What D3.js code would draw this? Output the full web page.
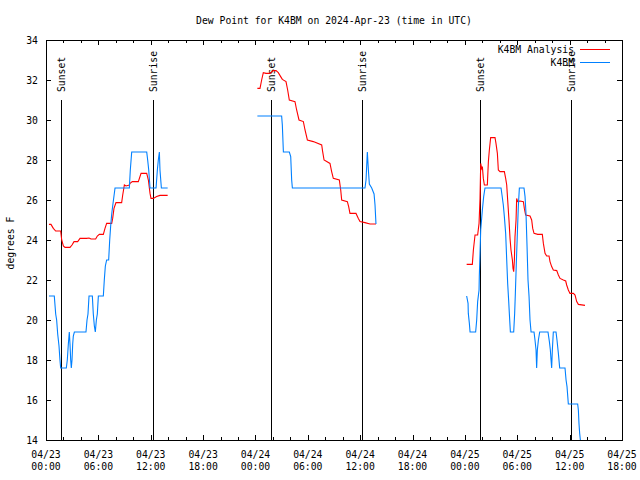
<!DOCTYPE html>
<html><head><meta charset="utf-8">
<script src="https://cdn.jsdelivr.net/npm/d3@7"></script>
<style>body{margin:0;background:#fff}svg{display:block}text{font-family:"DejaVu Sans Mono",monospace;font-size:9.75px;fill:#000}</style>
</head><body><svg id="c" width="640" height="480"></svg>
<script>
const title = "Dew Point for K4BM on 2024-Apr-23 (time in UTC)";
const yLabel = "degrees F";
const seriesNames = ["K4BM Analysis", "K4BM"];
const seriesColors = ["#ff0000", "#0080ff"];
const xTickHours = [0, 6, 12, 18, 24, 30, 36, 42, 48, 54, 60, 66];
const xTickDates = ["04/23","04/23","04/23","04/23","04/24","04/24","04/24","04/24","04/25","04/25","04/25","04/25"];
const xTickTimes = ["00:00","06:00","12:00","18:00","00:00","06:00","12:00","18:00","00:00","06:00","12:00","18:00"];
const yTicks = [14, 16, 18, 20, 22, 24, 26, 28, 30, 32, 34];
const sunsetHours = [1.77, 25.77, 49.68];
const sunriseHours = [12.28, 36.25, 60.18];

// K4BM Analysis (hours since 04/23 00:00 UTC, °F)
const analysis1 = [[0.34,24.78],[0.57,24.78],[0.84,24.58],[1.11,24.45],[1.68,24.45],[1.80,24.0],[1.99,23.7],[2.18,23.63],[2.75,23.63],[2.98,23.75],[3.21,23.92],[3.63,23.92],[3.90,24.08],[4.66,24.08],[4.93,24.1],[5.16,24.05],[5.69,24.05],[5.88,24.2],[6.11,24.28],[6.57,24.28],[6.76,24.58],[6.95,24.83],[7.53,24.83],[7.64,25.08],[7.79,25.58],[8.02,25.87],[8.67,25.87],[8.79,26.25],[8.98,26.75],[9.17,26.7],[9.55,26.75],[9.63,26.83],[9.89,26.92],[10.58,26.92],[10.89,27.33],[11.54,27.33],[11.73,27.0],[11.92,26.33],[12.03,26.08],[12.30,26.08],[12.68,26.17],[13.06,26.23],[13.94,26.23]];
const analysis2 = [[24.22,31.58],[24.52,31.58],[24.71,32.0],[24.90,32.37],[25.21,32.33],[25.67,32.33],[26.05,32.47],[26.36,32.47],[26.62,32.37],[26.89,32.17],[27.08,32.03],[27.5,31.92],[27.69,31.5],[27.88,31.0],[28.53,30.92],[28.72,30.5],[28.99,30.0],[29.49,29.92],[29.68,29.5],[29.95,29.0],[30.63,28.92],[31.59,28.75],[31.70,28.42],[31.86,28.0],[32.54,27.83],[32.73,27.42],[32.92,27.08],[33.61,27.0],[33.77,26.5],[33.88,26.0],[34.53,25.92],[34.68,25.67],[34.83,25.33],[35.52,25.33],[35.79,25.08],[35.98,24.92],[36.55,24.87],[37.13,24.8],[37.81,24.8]];
const analysis3 = [[48.2,22.78],[48.85,22.78],[48.97,23.5],[49.16,24.25],[49.46,24.25],[49.62,24.83],[49.73,26.08],[49.81,27.83],[49.92,27.58],[50.0,27.67],[50.11,27.08],[50.23,26.75],[50.57,26.75],[50.69,27.92],[50.8,28.5],[50.95,29.12],[51.45,29.12],[51.56,28.83],[51.72,28.33],[51.83,27.5],[52.02,27.42],[52.52,27.42],[52.67,27.08],[52.79,26.75],[52.9,26.0],[53.05,25.0],[53.17,24.08],[53.28,23.5],[53.44,23.0],[53.51,22.58],[53.59,22.42],[53.67,23.0],[53.74,24.17],[53.86,25.0],[53.93,26.08],[54.05,25.92],[54.31,25.95],[54.7,25.92],[54.81,25.58],[54.96,25.25],[55.46,25.2],[55.65,25.0],[55.77,24.58],[55.92,24.33],[56.34,24.28],[56.87,24.28],[56.99,23.83],[57.18,23.33],[57.37,23.2],[57.64,23.2],[57.75,22.92],[57.94,22.67],[58.13,22.5],[58.52,22.47],[58.71,22.25],[58.9,22.08],[59.28,22.0],[59.55,21.95],[59.66,21.75],[59.85,21.5],[60.04,21.33],[60.43,21.33],[60.62,21.25],[60.81,20.92],[61.0,20.78],[61.76,20.73]];

// K4BM station observations
const station1 = [[0.34,21.2],[0.95,21.2],[1.11,20.3],[1.22,20.0],[1.34,19.3],[1.49,18.7],[1.60,18.0],[1.68,17.6],[2.33,17.6],[2.44,18.0],[2.56,18.8],[2.67,19.4],[2.75,18.8],[2.83,18.0],[2.90,17.6],[2.98,18.0],[3.06,18.8],[3.13,19.2],[3.25,19.4],[4.58,19.4],[4.70,20.0],[4.81,20.3],[4.93,21.2],[5.31,21.2],[5.42,20.3],[5.54,19.7],[5.65,19.4],[5.77,20.0],[5.88,20.3],[6.00,21.2],[6.57,21.2],[6.68,22.0],[6.80,22.7],[6.95,23.0],[7.18,23.0],[7.30,24.0],[7.41,24.7],[7.53,25.3],[7.64,25.7],[7.79,26.2],[7.91,26.6],[9.55,26.6],[9.66,27.5],[9.82,28.4],[11.54,28.4],[11.65,28.0],[11.77,27.5],[11.92,26.6],[12.61,26.6],[12.76,27.5],[12.87,28.0],[12.99,28.4],[13.06,27.5],[13.22,26.6],[13.94,26.6]];
const station2 = [[24.22,30.2],[27.0,30.2],[27.08,29.75],[27.2,28.4],[27.88,28.4],[28.04,28.17],[28.15,27.0],[28.23,26.6],[36.55,26.6],[36.67,27.0],[36.82,28.4],[36.94,27.5],[37.05,26.8],[37.32,26.6],[37.59,26.3],[37.7,25.75],[37.81,24.8]];
const station3 = [[48.2,21.2],[48.36,20.83],[48.39,20.33],[48.51,19.83],[48.59,19.4],[49.23,19.4],[49.35,20.0],[49.46,20.92],[49.62,21.5],[49.65,22.17],[49.81,24.5],[50.0,25.5],[50.15,26.17],[50.3,26.6],[52.14,26.6],[52.25,26.25],[52.4,25.75],[52.52,25.17],[52.67,24.33],[52.79,23.0],[52.9,21.83],[53.02,20.92],[53.09,20.33],[53.21,19.4],[53.59,19.4],[53.7,20.33],[53.78,21.33],[53.89,22.83],[54.01,24.33],[54.12,25.67],[54.24,26.6],[54.77,26.6],[54.89,26.17],[55.0,25.33],[55.12,23.67],[55.23,22.0],[55.35,21.17],[55.46,20.0],[55.58,19.4],[55.92,19.4],[56.03,19.0],[56.15,18.5],[56.22,17.6],[56.3,18.5],[56.42,19.0],[56.57,19.4],[57.52,19.4],[57.68,18.92],[57.79,18.5],[57.87,18.0],[57.94,17.6],[58.02,18.5],[58.13,19.4],[58.44,19.4],[58.55,19.0],[58.71,18.33],[58.86,17.6],[59.47,17.6],[59.59,17.0],[59.7,16.67],[59.85,15.8],[60.92,15.8],[61.0,15.5],[61.07,14.83],[61.15,14.33],[61.23,14.0]];

const analysisSegments = [analysis1, analysis2, analysis3];
const stationSegments = [station1, station2, station3];

const svg = d3.select("#c");
const L = 46, R = 622, T = 40, B = 440;
const x = d3.scaleLinear().domain([0, 66]).range([L, R]);
const y = d3.scaleLinear().domain([14, 34]).range([B, T]);

svg.append("defs").append("clipPath").attr("id","clip")
  .append("rect").attr("x", L).attr("y", T).attr("width", R - L).attr("height", B - T + 1);

// ticks
const minorHours = d3.range(0, 67, 2);
const tk = svg.append("g").attr("stroke", "#000").attr("stroke-width", 1).attr("shape-rendering", "crispEdges");
minorHours.forEach(h => {
  const major = h % 6 === 0;
  const len = major ? 5 : 3;
  const px = Math.round(x(h)) + 0.5;
  tk.append("line").attr("x1", px).attr("x2", px).attr("y1", B).attr("y2", B - len);
  tk.append("line").attr("x1", px).attr("x2", px).attr("y1", T).attr("y2", T + len);
});
yTicks.forEach(v => {
  const py = Math.round(y(v)) + 0.5;
  tk.append("line").attr("x1", L).attr("x2", L + 5).attr("y1", py).attr("y2", py);
  tk.append("line").attr("x1", R).attr("x2", R - 5).attr("y1", py).attr("y2", py);
});

// tick labels
yTicks.forEach(v => {
  svg.append("text").attr("x", 38).attr("y", y(v) + 3.8).attr("text-anchor", "end").text(v);
});
xTickHours.forEach((h, i) => {
  svg.append("text").attr("x", x(h)).attr("y", 458.3).attr("text-anchor", "middle").text(xTickDates[i]);
  svg.append("text").attr("x", x(h)).attr("y", 470.3).attr("text-anchor", "middle").text(xTickTimes[i]);
});

// sunrise / sunset markers
const markers = sunsetHours.map(h => ({h, label: "Sunset"}))
  .concat(sunriseHours.map(h => ({h, label: "Sunrise"})));
markers.forEach(m => {
  const px = Math.round(x(m.h)) + 0.5;
  svg.append("line").attr("x1", px).attr("x2", px).attr("y1", B).attr("y2", B - 0.85 * (B - T))
    .attr("stroke", "#000").attr("stroke-width", 1).attr("shape-rendering", "crispEdges");
  svg.append("text").attr("transform", `translate(${px + 3.5},92) rotate(-90)`)
    .attr("text-anchor", "start").text(m.label);
});

// data lines
const line = d3.line().x(d => x(d[0])).y(d => y(d[1]));
const plot = svg.append("g").attr("clip-path", "url(#clip)");
analysisSegments.forEach(seg => {
  plot.append("path").attr("d", line(seg)).attr("fill", "none")
    .attr("stroke", seriesColors[0]).attr("stroke-width", 1.1);
});
stationSegments.forEach(seg => {
  plot.append("path").attr("d", line(seg)).attr("fill", "none")
    .attr("stroke", seriesColors[1]).attr("stroke-width", 1.1);
});

// frame
svg.append("rect").attr("x", L + 0.5).attr("y", T + 0.5).attr("width", R - L).attr("height", B - T)
  .attr("fill", "none").attr("stroke", "#000").attr("stroke-width", 1).attr("shape-rendering", "crispEdges");

// title & axis label
svg.append("text").attr("x", (L + R) / 2).attr("y", 23.5).attr("text-anchor", "middle").text(title);
svg.append("text").attr("transform", "translate(14,243) rotate(-90)").attr("text-anchor", "middle").text(yLabel);

// legend
seriesNames.forEach((name, i) => {
  const ly = 49.5 + i * 13;
  svg.append("text").attr("x", 574).attr("y", ly + 3.8).attr("text-anchor", "end").text(name);
  svg.append("line").attr("x1", 580).attr("x2", 610).attr("y1", ly).attr("y2", ly)
    .attr("stroke", seriesColors[i]).attr("stroke-width", 1).attr("shape-rendering", "crispEdges");
});
</script></body></html>
